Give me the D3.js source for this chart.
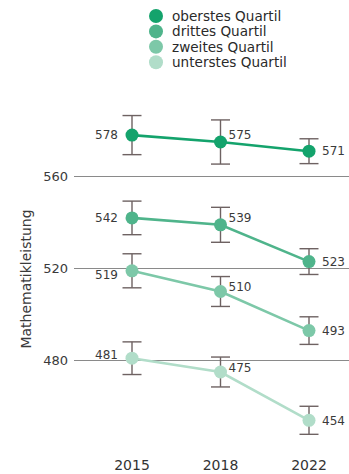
<!DOCTYPE html>
<html>
<head>
<meta charset="utf-8">
<script src="https://cdn.jsdelivr.net/npm/d3@7"></script>
<style>
  html, body { margin: 0; padding: 0; background: #fff; }
  svg { display: block; font-family: "DejaVu Sans", Verdana, sans-serif; }
</style>
</head>
<body>
<svg id="chart" width="349" height="474"></svg>
<script>
// Survey years on the x axis
const years = ["2015", "2018", "2022"];

// Quartile groups, top to bottom
const groups = ["oberstes Quartil", "drittes Quartil", "zweites Quartil", "unterstes Quartil"];
const colors = ["#14a36c", "#4fb48b", "#7dc8a8", "#b1ddc9"];

// Mean maths score per group and year
const oberstes = [578, 575, 571];
const drittes = [542, 539, 523];
const zweites = [519, 510, 493];
const unterstes = [481, 475, 454];

// Half-width of the confidence interval per group and year
const ciOberstes = [8.5, 9.6, 5.4];
const ciDrittes = [7.3, 7.6, 5.6];
const ciZweites = [7.4, 6.5, 6.0];
const ciUnterstes = [7.1, 6.5, 6.1];

// Y axis ticks
const yTicks = [480, 520, 560];

const seriesValues = [oberstes, drittes, zweites, unterstes];
const seriesCi = [ciOberstes, ciDrittes, ciZweites, ciUnterstes];

const svg = d3.select("#chart");

const x = d3.scalePoint().domain(years).range([132, 309]);
const y = d3.scaleLinear().domain([480, 560]).range([360.5, 176.5]);

// Horizontal grid lines with their tick labels
const grid = svg.append("g");
grid.selectAll("line").data(yTicks).join("line")
  .attr("x1", 74).attr("x2", 349)
  .attr("y1", d => y(d)).attr("y2", d => y(d))
  .attr("stroke", "#8a8a8a").attr("stroke-width", 1.2);
grid.selectAll("text").data(yTicks).join("text")
  .attr("x", 68).attr("y", d => y(d))
  .attr("dy", "0.35em")
  .attr("text-anchor", "end")
  .attr("font-size", 13).attr("fill", "#3a3a3a")
  .text(d => d);

// Axis title
svg.append("text")
  .attr("transform", "translate(31,279) rotate(-90)")
  .attr("text-anchor", "middle")
  .attr("font-size", 14).attr("fill", "#3a3a3a")
  .text("Mathematikleistung");

// Year labels
svg.append("g").selectAll("text").data(years).join("text")
  .attr("x", d => x(d)).attr("y", 465)
  .attr("dy", "0.35em")
  .attr("text-anchor", "middle")
  .attr("font-size", 14).attr("fill", "#333")
  .text(d => d);

// Offsets of the value labels relative to each point
const labelDy = [
  [0, -7, 0],
  [0, -7, 0],
  [3.5, -5, 0],
  [-3, -4, 0]
];

const line = d3.line().x((d, i) => x(years[i])).y(d => y(d));

seriesValues.forEach((vals, s) => {
  const g = svg.append("g");
  const ci = seriesCi[s];

  // Error bars
  const eb = g.append("g");
  vals.forEach((v, i) => {
    const cx = x(years[i]);
    const y0 = y(v + ci[i]), y1 = y(v - ci[i]);
    eb.append("line").attr("x1", cx).attr("x2", cx).attr("y1", y0).attr("y2", y1);
    eb.append("line").attr("x1", cx - 9.5).attr("x2", cx + 9.5).attr("y1", y0).attr("y2", y0);
    eb.append("line").attr("x1", cx - 9.5).attr("x2", cx + 9.5).attr("y1", y1).attr("y2", y1);
  });
  eb.attr("stroke", "#6e6262").attr("stroke-width", 1.4);

  g.append("path").datum(vals)
    .attr("d", line)
    .attr("fill", "none")
    .attr("stroke", colors[s])
    .attr("stroke-width", 2.6);

  g.selectAll("circle").data(vals).join("circle")
    .attr("cx", (d, i) => x(years[i]))
    .attr("cy", d => y(d))
    .attr("r", 6.5)
    .attr("fill", colors[s]);

  g.selectAll("text").data(vals).join("text")
    .attr("x", (d, i) => i === 0 ? x(years[i]) - 14 : x(years[i]) + (i === 1 ? 8 : 13))
    .attr("y", (d, i) => y(d) + labelDy[s][i])
    .attr("dy", "0.35em")
    .attr("text-anchor", (d, i) => i === 0 ? "end" : "start")
    .attr("font-size", 12).attr("fill", "#3a3a3a")
    .text(d => d);
});

// Legend
const legend = svg.append("g");
groups.forEach((name, i) => {
  const ly = 16 + i * 15.4;
  legend.append("circle").attr("cx", 156).attr("cy", ly).attr("r", 7).attr("fill", colors[i]);
  legend.append("text").attr("x", 172).attr("y", ly)
    .attr("dy", "0.35em")
    .attr("font-size", 13.6).attr("fill", "#2a2a2a")
    .text(name);
});
</script>
</body>
</html>
